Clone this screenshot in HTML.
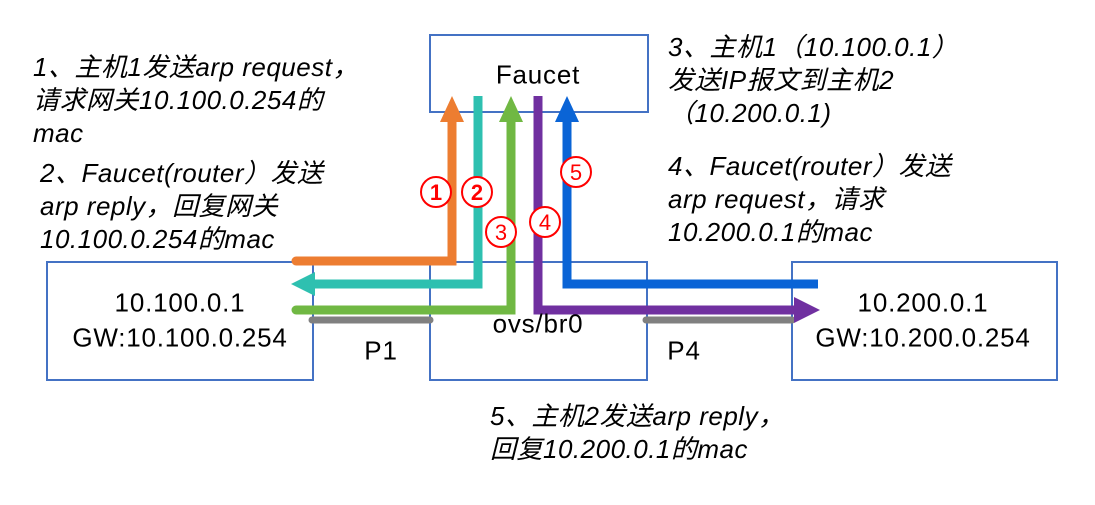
<!DOCTYPE html>
<html><head><meta charset="utf-8"><style>
body{margin:0;width:1095px;height:505px;background:#fff;position:relative;overflow:hidden;font-family:"Liberation Sans","Noto Sans CJK SC",sans-serif;color:#000}
.t{position:absolute;font-style:italic;font-size:26px;line-height:33px;white-space:nowrap;letter-spacing:0.5px}
.c{position:absolute;font-size:26px;transform:translate(-50%,-50%);white-space:nowrap;letter-spacing:0.8px}
</style></head><body>
<svg width="1095" height="505" style="position:absolute;left:0;top:0">
<g fill="none" stroke="#4472c4" stroke-width="2">
<rect x="430" y="35" width="218" height="77"/>
<rect x="47" y="262" width="266" height="118"/>
<rect x="430" y="262" width="217" height="118"/>
<rect x="792" y="262" width="265" height="118"/>
</g>
<g stroke="#808080" stroke-width="7" stroke-linecap="round">
<line x1="312" y1="320" x2="430" y2="320"/>
<line x1="646" y1="320" x2="792" y2="320"/>
</g>
<g fill="none" stroke-width="9" stroke-linejoin="miter">
<polyline points="296,261 452,261 452,118" stroke="#ed7d31" stroke-linecap="round"/>
<polyline points="478,96 478,284 310,284" stroke="#2ec0b0"/>
<polyline points="296,310 511,310 511,118" stroke="#70b843" stroke-linecap="round"/>
<polyline points="538,96 538,310 795,310" stroke="#7030a0"/>
<polyline points="818,284 567,284 567,118" stroke="#0a64d6"/>
</g>
<polygon points="452,96 440,122 464,122" fill="#ed7d31"/>
<polygon points="291,284 315,272 315,296" fill="#2ec0b0"/>
<polygon points="511,96 499,122 523,122" fill="#70b843"/>
<polygon points="820,310 794,297 794,323" fill="#7030a0"/>
<polygon points="567,96 555,122 579,122" fill="#0a64d6"/>
<g fill="#fff" stroke="#f00" stroke-width="2">
<circle cx="436" cy="192" r="15"/><circle cx="477" cy="192" r="15"/>
<circle cx="501" cy="232" r="15"/><circle cx="545" cy="222" r="15"/><circle cx="576" cy="172" r="15"/>
</g>
<g fill="#f00" font-family="Liberation Sans" font-size="22" text-anchor="middle">
<text x="436" y="200" font-weight="bold">1</text><text x="477" y="200" font-weight="bold">2</text>
<text x="501" y="240">3</text><text x="545" y="230">4</text><text x="576" y="180">5</text>
</g>
</svg>
<div class="t" style="left:33px;top:51px">1、主机1发送arp request，<br>请求网关10.100.0.254的<br>mac</div>
<div class="t" style="left:40px;top:157px">2、Faucet(router）发送<br>arp reply，回复网关<br>10.100.0.254的mac</div>
<div class="t" style="left:668px;top:31px">3、主机1（10.100.0.1）<br>发送IP报文到主机2<br>（10.200.0.1)</div>
<div class="t" style="left:668px;top:150px">4、Faucet(router）发送<br>arp request，请求<br>10.200.0.1的mac</div>
<div class="t" style="left:490px;top:400px">5、主机2发送arp reply，<br>回复10.200.0.1的mac</div>
<div class="c" style="left:538px;top:75px">Faucet</div>
<div class="c" style="left:180px;top:303px">10.100.0.1</div>
<div class="c" style="left:180px;top:338px">GW:10.100.0.254</div>
<div class="c" style="left:538px;top:324px">ovs/br0</div>
<div class="c" style="left:381px;top:351px">P1</div>
<div class="c" style="left:684px;top:351px">P4</div>
<div class="c" style="left:923px;top:303px">10.200.0.1</div>
<div class="c" style="left:923px;top:338px">GW:10.200.0.254</div>
</body></html>
